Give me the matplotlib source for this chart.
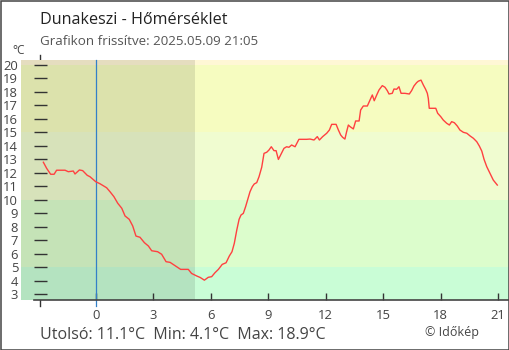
import numpy as np
import matplotlib.pyplot as plt
from matplotlib.patches import Rectangle

plt.rcParams['font.family'] = ['Open Sans', 'DejaVu Sans']

# hours relative to midnight, temperature in C
hours = [-2.73, -2.56, -2.35, -2.17, -2.04, -1.6, -1.43, -1.17, -1.08, -0.85,
         -0.68, -0.44, -0.3, 0.0, 0.22, 0.4, 0.57, 0.75, 0.95, 1.15,
         1.36, 1.53, 1.75, 1.93, 2.1, 2.31, 2.54, 2.75, 2.92, 3.23,
         3.44, 3.67, 3.88, 4.14, 4.43, 4.83, 5.0, 5.27, 5.45, 5.67,
         5.87, 6.05, 6.22, 6.4, 6.6, 6.8, 6.97, 7.11, 7.23, 7.36,
         7.48, 7.58, 7.7, 7.82, 7.93, 8.05, 8.17, 8.27, 8.4, 8.52,
         8.66, 8.78, 8.92, 9.04, 9.16, 9.3, 9.41, 9.53, 9.67, 9.82,
         9.96, 10.08, 10.22, 10.4, 10.6, 11.0, 11.18, 11.39, 11.56, 11.67,
         11.84, 12.05, 12.19, 12.31, 12.54, 12.66, 12.78, 12.88, 13.0, 13.09,
         13.18, 13.27, 13.44, 13.56, 13.74, 13.82, 13.96, 14.17, 14.31, 14.43,
         14.53, 14.66, 14.78, 14.95, 15.09, 15.21, 15.3, 15.47, 15.56, 15.7,
         15.82, 15.93, 16.13, 16.36, 16.48, 16.6, 16.74, 16.83, 16.97, 17.09,
         17.21, 17.3, 17.35, 17.4, 17.61, 17.74, 17.84, 18.0, 18.13, 18.31,
         18.45, 18.57, 18.71, 18.86, 19.0, 19.18, 19.36, 19.53, 19.7, 19.88,
         20.01, 20.14, 20.26, 20.4, 20.57, 20.74, 20.95]
temps = [12.79, 12.34, 11.9, 11.9, 12.2, 12.2, 12.09, 12.14, 11.92, 12.22,
         12.17, 11.82, 11.72, 11.35, 11.2, 11.05, 10.9, 10.6, 10.24, 9.75,
         9.38, 8.81, 8.56, 8.07, 7.32, 7.23, 6.83, 6.58, 6.23, 6.16,
         5.97, 5.42, 5.37, 5.12, 4.85, 4.85, 4.55, 4.36, 4.25, 4.05,
         4.26, 4.31, 4.6, 4.85, 5.22, 5.34, 5.84, 6.16, 6.78, 7.77,
         8.56, 8.88, 9.0, 9.5, 10.04, 10.61, 10.98, 11.18, 11.28, 11.72,
         12.42, 13.45, 13.53, 13.7, 13.94, 13.65, 13.65, 13.0, 13.4, 13.82,
         13.94, 13.9, 14.07, 13.94, 14.49, 14.49, 14.51, 14.44, 14.69, 14.44,
         14.69, 14.94, 15.18, 15.6, 15.6, 15.18, 14.81, 14.64, 14.51, 15.06,
         15.55, 15.43, 15.26, 15.85, 15.85, 16.66, 16.96, 16.96, 17.41, 17.78,
         17.35, 17.78, 18.15, 18.47, 18.35, 18.1, 17.85, 17.9, 18.22, 18.2,
         18.39, 17.9, 17.9, 17.85, 18.1, 18.44, 18.69, 18.8, 18.88, 18.52,
         18.2, 17.9, 17.53, 16.79, 16.79, 16.79, 16.42, 16.17, 15.92, 15.68,
         15.55, 15.8, 15.72, 15.48, 15.18, 15.01, 14.94, 14.74, 14.57, 14.31,
         14.0, 13.62, 13.0, 12.46, 11.97, 11.47, 11.1]

band_edges = [-10, 5, 10, 15, 20, 30]
band_colors = ['#c9fdd6', '#dcfdcc', '#f0fcd0', '#f6fcc0', '#fff7d5']
night_end = 5.18

y_ticks = list(range(3, 21))
x_ticks = list(range(0, 22, 3))

W, H = 510, 350
fig = plt.figure(figsize=(W / 100, H / 100), dpi=100)
ax = fig.add_axes([21 / W, 50 / H, 488 / W, 240 / H])
ax.patch.set_visible(False)
for s in ax.spines.values():
    s.set_visible(False)

x0, x1 = -3.897, 21.56
y0, y1 = 2.58, 20.37
ax.set_xlim(x0, x1)
ax.set_ylim(y0, y1)

for i, c in enumerate(band_colors):
    ax.axhspan(band_edges[i], band_edges[i + 1], color=c, lw=0, zorder=0.3)
ax.axvspan(x0, night_end, color='black', alpha=0.1, lw=0, zorder=0.4)

# y axis line peeking out above/below the bands
ax.axvline(-2.89, ymin=-0.025, ymax=1.021, color='#333333', lw=1, clip_on=False, zorder=0.1)
ax.axhline(y0, xmin=13 / 488, xmax=1, color='#444444', lw=1.2, clip_on=False, zorder=3)
ax.axvline(0, ymin=-0.025, ymax=1, color='#3380c8', lw=0.9, clip_on=False, zorder=2)

ax.hlines(y_ticks, 13 / 488, 25.7 / 488, transform=ax.get_yaxis_transform(),
          color='#333333', lw=1, zorder=3)

ax.plot(hours, temps, color='#ff4040', lw=1.0, zorder=4)

ax.set_yticks(y_ticks)
ax.set_yticklabels([str(v) for v in y_ticks])
ax.tick_params(axis='y', length=0, pad=2, labelsize=9.4, labelcolor='#444444')
ax.set_xticks(x_ticks)
ax.set_xticklabels([str(v) for v in x_ticks])
ax.tick_params(axis='x', direction='in', length=5, width=1, color='#333333',
               pad=6.5, labelsize=9.4, labelcolor='#444444')
ax.set_xticks([21], minor=True)
ax.tick_params(axis='x', which='minor', direction='out', length=4.5, width=1, color='#333333')


def fx(px):
    return px / W


def fy(py):
    return 1 - py / H


fig.text(fx(19), fy(51), '°C', ha='center', va='center', fontsize=8.6, color='#444444')
fig.text(fx(40), fy(24.3), 'Dunakeszi - Hőmérséklet', ha='left', va='baseline',
         fontsize=11.6, color='#222222')
fig.text(fx(40), fy(45), 'Grafikon frissítve: 2025.05.09 21:05', ha='left', va='baseline',
         fontsize=9.6, color='#555555')
fig.text(fx(40), fy(339), 'Utolsó: 11.1°C  Min: 4.1°C  Max: 18.9°C', ha='left', va='baseline',
         fontsize=11.5, color='#444444')
fig.text(fx(425), fy(336), '© Időkép', ha='left', va='baseline', fontsize=9.0, color='#444444')

fig.add_artist(Rectangle((0.5 / W, 0.5 / H), 1 - 1.5 / W, 1 - 1 / H, transform=fig.transFigure,
                         fill=False, ec='#444444', lw=1.1))

fig.savefig('out.png', dpi=100)
